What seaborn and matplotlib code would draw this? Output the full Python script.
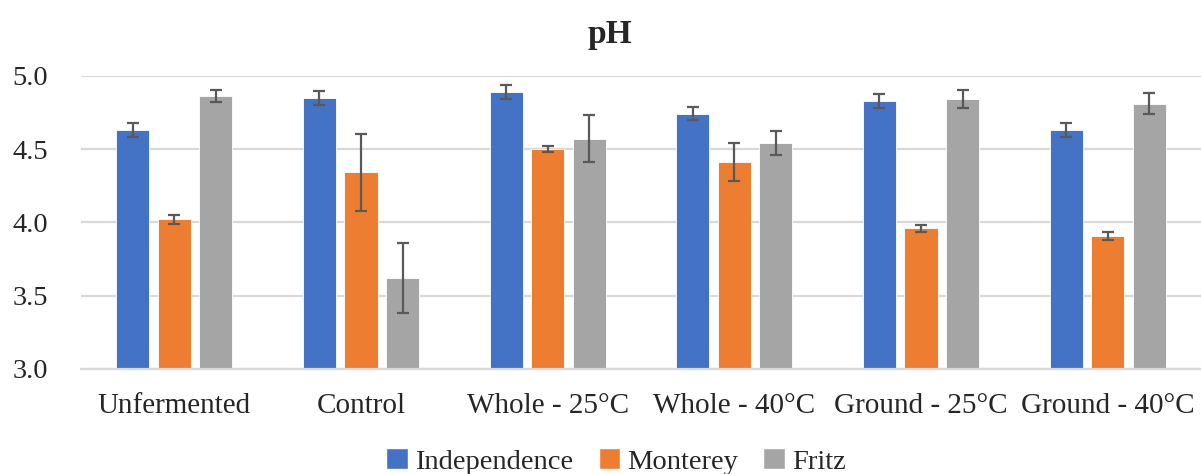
import numpy as np
import pandas as pd
import seaborn as sns
import matplotlib.pyplot as plt
from matplotlib.patches import Patch

treatments = ['Unfermented', 'Control', 'Whole - 25°C', 'Whole - 40°C',
              'Ground - 25°C', 'Ground - 40°C']
varieties = ['Independence', 'Monterey', 'Fritz']

# mean pH per treatment
independence = [4.63, 4.85, 4.89, 4.74, 4.83, 4.63]
monterey = [4.02, 4.34, 4.50, 4.41, 3.96, 3.91]
fritz = [4.86, 3.62, 4.57, 4.54, 4.84, 4.81]

# error bar half-widths
independence_err = [0.045, 0.047, 0.047, 0.045, 0.047, 0.047]
monterey_err = [0.03, 0.26, 0.02, 0.13, 0.023, 0.027]
fritz_err = [0.04, 0.24, 0.16, 0.083, 0.06, 0.07]

colors = ['#4472C4', '#ED7D31', '#A5A5A5']

means = {'Independence': independence, 'Monterey': monterey, 'Fritz': fritz}
errs = {'Independence': independence_err, 'Monterey': monterey_err, 'Fritz': fritz_err}

df = pd.DataFrame([
    {'Treatment': t, 'Variety': v, 'pH': means[v][i]}
    for v in varieties for i, t in enumerate(treatments)
])

sns.set_style('white')
plt.rcParams['font.family'] = ['Liberation Serif', 'DejaVu Serif']

fig = plt.figure(figsize=(12.01, 4.74), dpi=100)
ax = fig.add_axes([81 / 1201, 1 - 369 / 474, 1 - 81 / 1201, (369 - 75.7) / 474])

sns.barplot(data=df, x='Treatment', y='pH', hue='Variety', order=treatments,
            hue_order=varieties, palette=colors, width=0.667, gap=0.2,
            errorbar=None, legend=False, saturation=1, ax=ax,
            edgecolor='white', linewidth=0.6)

# error bars placed on the bars seaborn drew
for cont, v in zip(ax.containers, varieties):
    xs = [p.get_x() + p.get_width() / 2 for p in cont.patches]
    ax.errorbar(xs, means[v], yerr=errs[v], fmt='none', ecolor='#595959',
                elinewidth=1.6, capsize=4.5, capthick=1.6, zorder=5)

ax.set_ylim(3.0, 5.0)
ax.set_yticks([3.0, 3.5, 4.0, 4.5, 5.0])
ax.set_yticklabels(['3.0', '3.5', '4.0', '4.5', '5.0'])
ax.set_xlim(-0.5, 5.5)
ax.yaxis.grid(True, color='#D9D9D9', linewidth=1.6)
ax.set_axisbelow(True)
for s in ['top', 'right', 'left']:
    ax.spines[s].set_visible(False)
ax.spines['bottom'].set_color('#D9D9D9')
ax.spines['bottom'].set_linewidth(1.6)
ax.tick_params(axis='y', length=0, pad=24, labelsize=20.5)
ax.tick_params(axis='x', length=0, pad=17, labelsize=21)
ax.set_xlabel('')
ax.set_ylabel('')

fig.suptitle('pH', x=610 / 1201, y=0.96, fontsize=24, fontweight='bold')

handles = [Patch(facecolor=c, label=v) for c, v in zip(colors, varieties)]
fig.legend(handles=handles, loc='center', bbox_to_anchor=(616 / 1201, 0.026),
           ncol=3, frameon=False, fontsize=20.5, handlelength=0.75, handleheight=0.75,
           handletextpad=0.25, columnspacing=0.9)

plt.savefig('out.png', dpi=100)
